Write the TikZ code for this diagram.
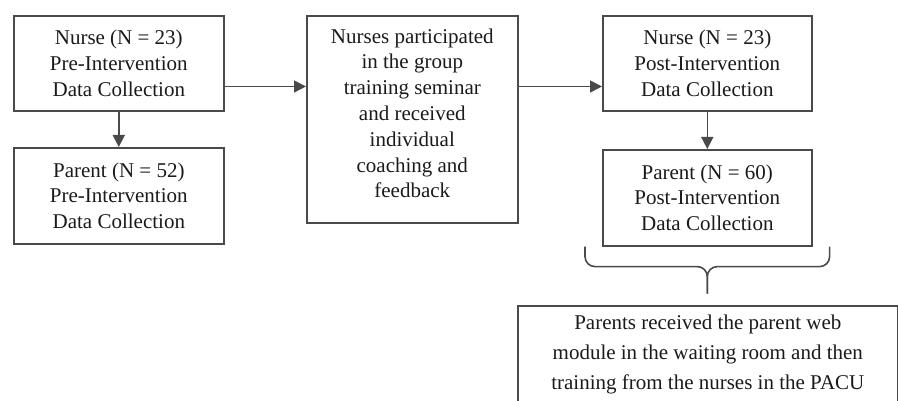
\documentclass[tikz,border=0pt]{standalone}
\usepackage{fontspec}
\setmainfont{Liberation Serif}
\usetikzlibrary{arrows.meta, positioning, calc}
\definecolor{cline}{HTML}{4A4A4A}
\definecolor{ctext}{HTML}{1A1A1A}

\begin{document}
\begin{tikzpicture}[x=1pt, y=-1pt,
  box/.style={draw=cline, line width=1.6pt, text=ctext, align=center, inner sep=0pt,
    anchor=north west, font=\fontsize{21}{25.8}\selectfont},
  arr/.style={draw=cline, line width=1.6pt, -{Triangle[length=12pt, width=12pt]}},
  brc/.style={draw=cline, line width=1.6pt, rounded corners=10pt}]
  \useasboundingbox (0,0) rectangle (898,401);
  % pre-intervention
  \node[box, minimum width=210pt, minimum height=95pt] (npre) at (13,15)
    {Nurse (N = 23)\\Pre-Intervention\\Data Collection};
  \node[box, minimum width=210pt, minimum height=96pt] (ppre) at (13,147)
    {Parent (N = 52)\\Pre-Intervention\\Data Collection};
  % training
  \node[box, minimum width=211pt, minimum height=207pt, text depth=12pt] (train) at (306,15)
    {Nurses participated\\in the group\\training seminar\\and received\\individual\\coaching and\\feedback};
  % post-intervention
  \node[box, minimum width=209pt, minimum height=95pt] (npost) at (602,15)
    {Nurse (N = 23)\\Post-Intervention\\Data Collection};
  \node[box, minimum width=209pt, minimum height=96pt] (ppost) at (602,149)
    {Parent (N = 60)\\Post-Intervention\\Data Collection};
  \node[box, minimum width=380pt, minimum height=98pt, font=\fontsize{21}{30}\selectfont] (web) at (517,305)
    {Parents received the parent web\\module in the waiting room and then\\training from the nurses in the PACU};

  \draw[arr] (npre) -- (ppre);
  \draw[arr] (npost) -- (ppost);
  \coordinate (a1) at ($(npre.north east)!0.74!(npre.south east)$);
  \coordinate (a2) at (a1 -| train.east);
  \draw[arr] (a1) -- (a1 -| train.west);
  \draw[arr] (a2) -- (a2 -| npost.west);

  % brace under the post-intervention parents
  \coordinate (bl) at ($(ppost.south west)+(-17,0)$);
  \coordinate (br) at ($(ppost.south east)+(17,0)$);
  \coordinate (bt) at ($(ppost.south)+(0,47)$);
  \draw[brc] (bl) -- ($(bl)+(0,20)$) -- ($(bt)+(0,-27)$) -- (bt);
  \draw[brc] (br) -- ($(br)+(0,20)$) -- ($(bt)+(0,-27)$) -- (bt);
\end{tikzpicture}
\end{document}
